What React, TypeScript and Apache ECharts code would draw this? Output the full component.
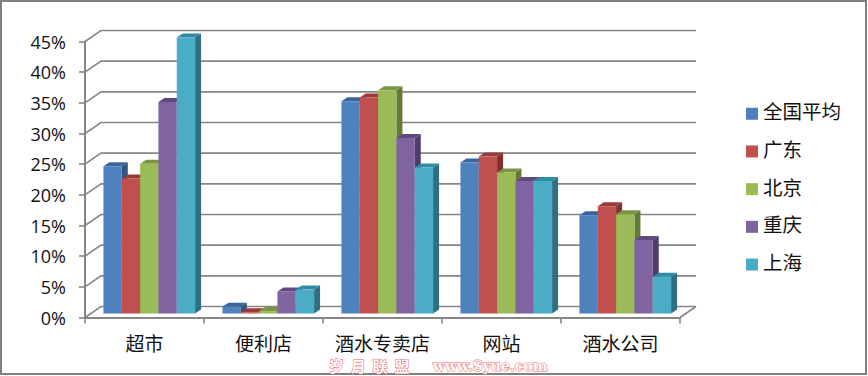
import React, { useEffect, useRef } from "react";
import * as echarts from "echarts";

const categories = ["超市", "便利店", "酒水专卖店", "网站", "酒水公司"];
const national = [24, 1.1, 34.6, 24.6, 16];
const guangdong = [22, 0.2, 35.2, 25.6, 17.5];
const beijing = [24.4, 0.4, 36.4, 23, 16.2];
const chongqing = [34.5, 3.6, 28.6, 21.6, 12];
const shanghai = [45, 3.9, 23.8, 21.6, 6];
const tickValues = [0, 5, 10, 15, 20, 25, 30, 35, 40, 45];
const names = ["全国平均", "广东", "北京", "重庆", "上海"];
const valuesBySeries = [national, guangdong, beijing, chongqing, shanghai];
const frontColors = ["#4F81BD", "#C0504D", "#9BBB59", "#8064A2", "#4BACC6"];
const topColors = ["#3A659C", "#983A38", "#7A9643", "#5F4A80", "#2F8CA6"];
const sideColors = ["#2F5580", "#7E302E", "#647A36", "#4E3C6A", "#2E6F84"];

const AXIS = "#868686";
const CJK = '"Noto Sans CJK SC", sans-serif';

function renderBar(si: number) {
  return (_p: any, api: any) => {
    const c = api.coord([api.value(0), api.value(1)]);
    const base = api.coord([api.value(0), 0]);
    const band = api.size([1, 0])[0];
    const w = band * 0.154;
    const x = c[0] + band * (-0.345 + si * 0.154);
    const top = c[1] - 4;
    const bottom = base[1] - 4;
    const dx = 6;
    const dy = 4;
    return {
      type: "group",
      children: [
        {
          type: "polygon",
          shape: { points: [[x + w, top], [x + w + dx, top - dy], [x + w + dx, bottom - dy], [x + w, bottom]] },
          style: { fill: sideColors[si] },
        },
        {
          type: "polygon",
          shape: { points: [[x, top], [x + dx, top - dy], [x + w + dx, top - dy], [x + w, top]] },
          style: { fill: topColors[si] },
        },
        {
          type: "rect",
          shape: { x, y: top, width: w, height: bottom - top },
          style: { fill: frontColors[si] },
        },
      ],
    };
  };
}

function renderWall(params: any, api: any) {
  const g = params.coordSys;
  const y = api.coord([0, api.value(1)])[1];
  const dx = 16;
  const dy = 11;
  const children: any[] = [
    {
      type: "polyline",
      shape: { points: [[g.x, y], [g.x + dx, y - dy], [g.x + g.width + dx, y - dy]] },
      style: { stroke: AXIS, lineWidth: 1.6, fill: "none" },
    },
  ];
  if (api.value(1) === 0) {
    children.push({
      type: "line",
      shape: { x1: g.x + g.width, y1: y, x2: g.x + g.width + dx, y2: y - dy },
      style: { stroke: AXIS, lineWidth: 1.6 },
    });
  }
  return { type: "group", children };
}

export default function App() {
  const ref = useRef<HTMLDivElement>(null);
  useEffect(() => {
    const chart = echarts.init(ref.current!, null, { renderer: "svg" });
    chart.setOption({
      animation: false,
      backgroundColor: "#ffffff",
      grid: { left: 85, right: 188, top: 41.5, bottom: 58.5, containLabel: false },
      legend: {
        orient: "vertical",
        left: 746,
        top: 101,
        padding: 0,
        icon: "rect",
        itemWidth: 12,
        itemHeight: 12,
        itemGap: 12.2,
        selectedMode: false,
        data: names,
        formatter: "{a|{name}}",
        textStyle: {
          rich: { a: { fontFamily: CJK, fontSize: 19.5, color: "#111", lineHeight: 17, padding: [0, 0, 6, 0] } },
        },
      },
      xAxis: {
        type: "category",
        data: categories,
        axisLine: { lineStyle: { color: AXIS, width: 2 } },
        axisTick: { show: true, length: 6, interval: 0, lineStyle: { color: AXIS, width: 1.6 } },
        axisLabel: { interval: 0, fontFamily: CJK, fontSize: 19, lineHeight: 19, color: "#111", margin: 15 },
        splitLine: { show: false },
      },
      yAxis: {
        type: "value",
        min: 0,
        max: 45,
        interval: 5,
        axisLine: { show: true, lineStyle: { color: AXIS, width: 2 } },
        axisTick: { show: true, length: 6, lineStyle: { color: AXIS, width: 1.6 } },
        axisLabel: { formatter: "{value}%", fontFamily: '"Open Sans", sans-serif', fontSize: 18, color: "#111", margin: 19 },
        splitLine: { show: false },
      },
      series: [
        {
          type: "custom",
          name: "wall",
          renderItem: renderWall,
          data: tickValues.map((v) => [0, v]),
          encode: { x: 0, y: 1 },
          silent: true,
          z: 1,
        },
        ...names.map((name, si) => ({
          type: "custom",
          name,
          renderItem: renderBar(si),
          data: valuesBySeries[si].map((v, i) => [i, v]),
          encode: { x: 0, y: 1 },
          itemStyle: { color: frontColors[si] },
          z: 3,
        })),
      ],
      graphic: [
        {
          type: "rect",
          shape: { x: 1, y: 1, width: 865, height: 373 },
          style: { fill: "none", stroke: "#808080", lineWidth: 2 },
          silent: true,
        },
        {
          type: "text",
          x: 329,
          y: 358,
          style: { text: "岁  月  联  盟", fontFamily: CJK, fontSize: 15, fontWeight: "bold", fill: "#ffffff", stroke: "#E8626E", lineWidth: 1 },
          silent: true,
        },
        {
          type: "text",
          x: 433,
          y: 359,
          style: { text: "www.Syue.com", fontFamily: '"DejaVu Serif", serif', fontSize: 14, fontWeight: "bold", fill: "#ffffff", stroke: "#E8626E", lineWidth: 1 },
          silent: true,
        },
      ],
    });
    return () => chart.dispose();
  }, []);
  return <div ref={ref} style={{ position: "fixed", left: 0, top: 0, width: 868, height: 376 }} />;
}
